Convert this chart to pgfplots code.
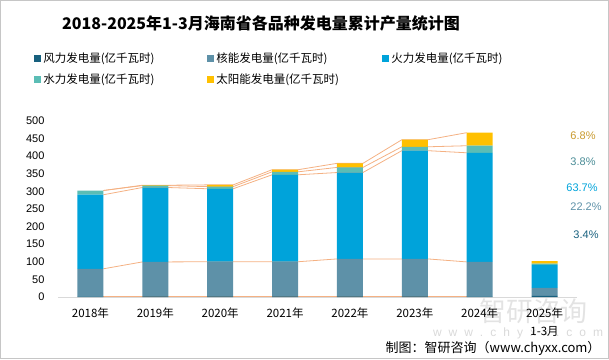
\documentclass[border=0pt]{standalone}
\usepackage{pgfplots}
\pgfplotsset{compat=1.18}
\usepackage{fontspec}
\setmainfont{Liberation Sans}
\newfontfamily\cjk{Noto Sans CJK SC}
\definecolor{cWind}{HTML}{17607E}
\definecolor{cNuc}{HTML}{5E91A8}
\definecolor{cFire}{HTML}{00A3DA}
\definecolor{cHydro}{HTML}{5BBDB5}
\definecolor{cSolar}{HTML}{FFC000}
\definecolor{cLine}{HTML}{F4B183}
\definecolor{cGold}{HTML}{C99A2E}
\definecolor{cTeal}{HTML}{4A8C96}
\begin{document}
\begin{tikzpicture}[x=1pt,y=1pt]
\useasboundingbox (0pt,0pt) rectangle (609pt,359pt);
\draw[gray!45, line width=1pt] (0.5pt,0.5pt) rectangle (608.5pt,358.5pt);
\node[font=\fontsize{16}{18}\selectfont\cjk\bfseries] at (261pt,336pt) {2018-2025年1-3月海南省各品种发电量累计产量统计图};
% watermark
\node[font=\fontsize{27}{29}\selectfont\cjk, text=gray!22] at (533pt,48pt) {智研咨询};
\node[font=\fontsize{12}{14}\selectfont, text=gray!30] at (518pt,26pt) {w\hspace{7pt}w\hspace{7pt}w\hspace{7pt}.\hspace{7pt}c\hspace{7pt}h\hspace{7pt}y\hspace{7pt}x\hspace{7pt}x\hspace{7pt}.\hspace{7pt}c\hspace{7pt}o\hspace{7pt}m};
\pgfplotsset{common/.style={width=519pt,height=176.3pt,scale only axis,
  xmin=-0.5,xmax=7.5,ymin=0,ymax=500,at={(58pt,62pt)},anchor=south west}}
\begin{axis}[common, hide axis]
\addplot[cLine, line width=0.8pt] coordinates {(0.2,2)(0.8,2)(1.2,2)(1.8,2)(2.2,2)(2.8,2)(3.2,2)(3.8,2)(4.2,2)(4.8,2)(5.2,2)(5.8,2)};
\addplot[cLine, line width=0.8pt] coordinates {(0.2,80)(0.8,99.5)(1.2,99.5)(1.8,100)(2.2,100)(2.8,100)(3.2,100)(3.8,108)(4.2,108)(4.8,108)(5.2,108)(5.8,99.5)};
\addplot[cLine, line width=0.8pt] coordinates {(0.2,290)(0.8,310.5)(1.2,310.5)(1.8,307)(2.2,307)(2.8,346.6)(3.2,346.6)(3.8,353)(4.2,353)(4.8,415)(5.2,415)(5.8,409)};
\addplot[cLine, line width=0.8pt] coordinates {(0.2,302)(0.8,316)(1.2,316)(1.8,313)(2.2,313)(2.8,355)(3.2,355)(3.8,367.5)(4.2,367.5)(4.8,426)(5.2,426)(5.8,429)};
\addplot[cLine, line width=0.8pt] coordinates {(0.2,302)(0.8,317)(1.2,317)(1.8,318)(2.2,318)(2.8,361)(3.2,361)(3.8,379)(4.2,379)(4.8,446)(5.2,446)(5.8,466)};
\end{axis}
\begin{axis}[common,
  ybar stacked, bar width=0.402,
  axis x line*=bottom, axis y line*=left,
  x axis line style={draw=gray!30, line width=0.8pt},
  y axis line style={draw=none},
  major tick length=0pt,
  ytick={0,50,...,500},
  xtick={0,...,7},
  xticklabels={2018年,2019年,2020年,2021年,2022年,2023年,2024年,{2025年\\1-3月}},
  xticklabel style={font=\fontsize{11.5}{18}\selectfont\cjk, align=center, yshift=-7pt},
  yticklabel style={font=\fontsize{11}{13}\selectfont, xshift=-10pt},
  /pgf/number format/assume math mode=true,
  legend style={draw=none, fill=none, at={(-0.046,1.398)}, anchor=north west,
    font=\fontsize{11.5}{13}\selectfont\cjk, legend columns=3, row sep=6pt,
    inner sep=0pt},
  legend cell align=left,
  legend image code/.code={\fill[#1,draw=none] (0pt,-3.5pt) rectangle (7pt,3.5pt);},
]
\addplot[fill=cWind, draw=none] coordinates {(0,2)(1,2)(2,2)(3,2)(4,2)(5,2)(6,2)(7,3.5)};
\addplot[fill=cNuc, draw=none] coordinates {(0,78)(1,97.5)(2,98)(3,98)(4,106)(5,106)(6,97.5)(7,22.6)};
\addplot[fill=cFire, draw=none] coordinates {(0,210)(1,211)(2,207)(3,246.6)(4,245)(5,307)(6,309.5)(7,65)};
\addplot[fill=cHydro, draw=none] coordinates {(0,12)(1,5.5)(2,6)(3,8.4)(4,14.5)(5,11)(6,20)(7,3.9)};
\addplot[fill=cSolar, draw=none] coordinates {(0,0)(1,1)(2,5)(3,6)(4,11.5)(5,20)(6,37)(7,6.9)};
\legend{\makebox[162pt][l]{风力发电量(亿千瓦时)},\makebox[164pt][l]{核能发电量(亿千瓦时)},\makebox[120pt][l]{火力发电量(亿千瓦时)},\makebox[162pt][l]{水力发电量(亿千瓦时)},\makebox[164pt][l]{太阳能发电量(亿千瓦时)}}
\end{axis}
% percentage labels
\begin{scope}[every node/.style={font=\fontsize{11}{13}\selectfont}]
\node[text=cGold] at (583pt,223pt) {6.8\%};
\node[text=cTeal] at (583pt,197.3pt) {3.8\%};
\node[text=cFire] at (582pt,171pt) {63.7\%};
\node[text=cNuc] at (586pt,152pt) {22.2\%};
\node[text=cWind] at (586pt,124pt) {3.4\%};
\end{scope}
\node[anchor=east, font=\fontsize{13}{15}\selectfont\cjk] at (604pt,11pt) {制图：智研咨询（www.chyxx.com）};
\end{tikzpicture}
\end{document}
